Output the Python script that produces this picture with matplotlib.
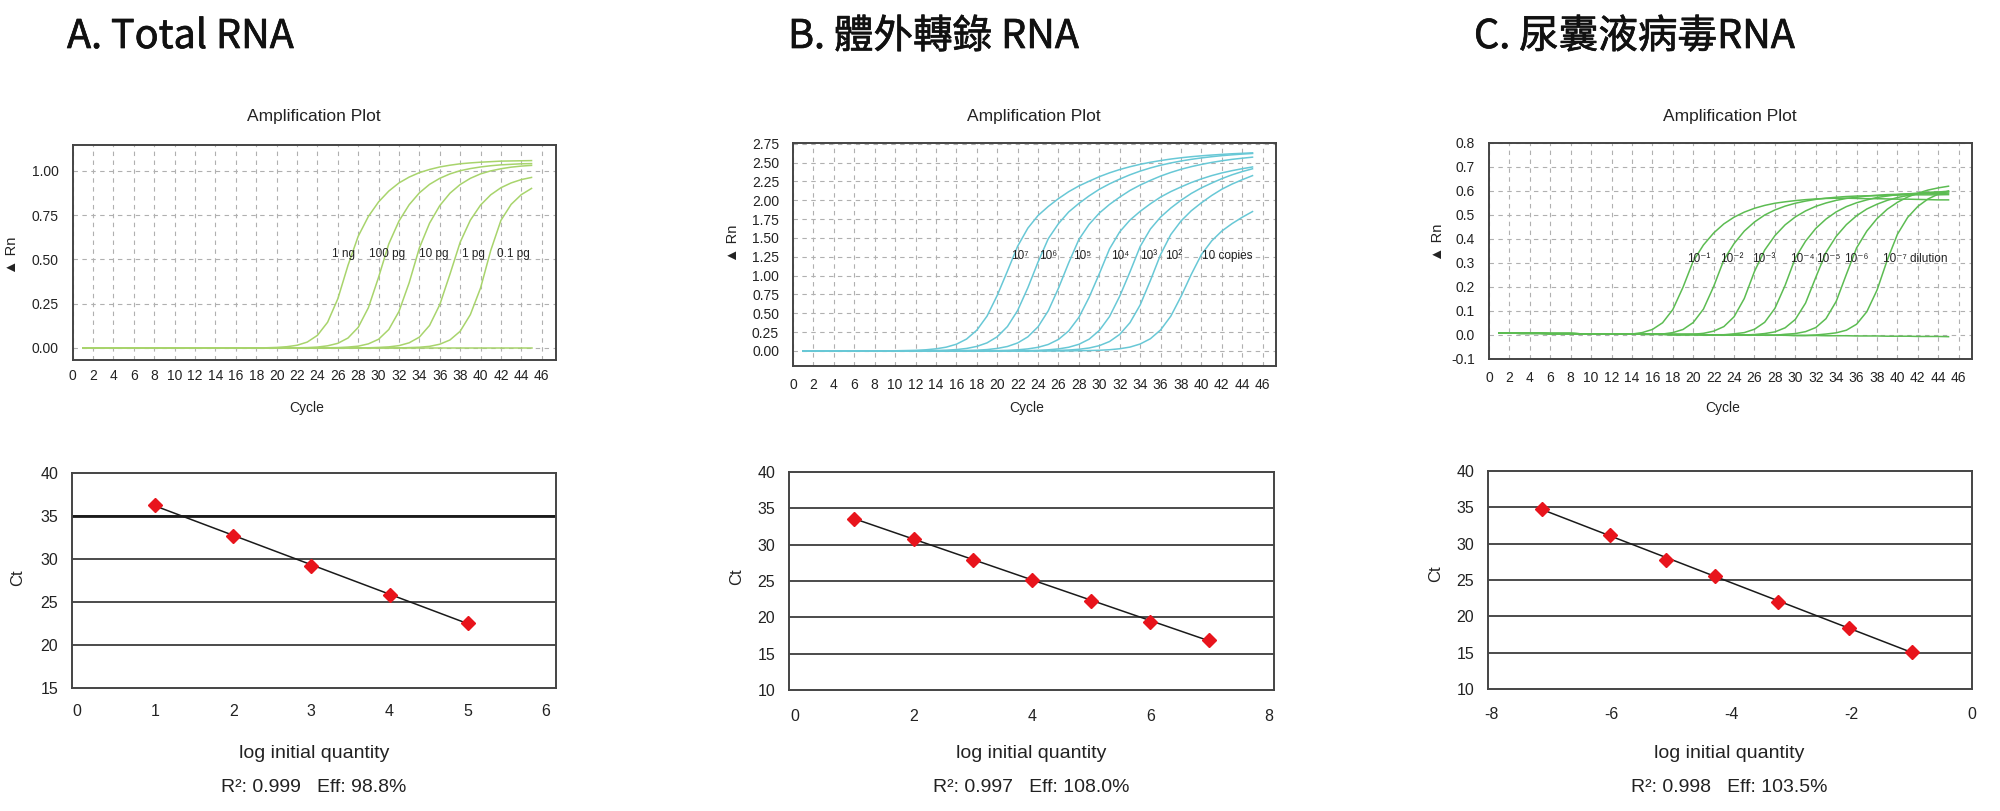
import matplotlib.pyplot as plt
import matplotlib.patheffects as pe
import numpy as np

plt.rcParams['font.family'] = ['Liberation Sans', 'DejaVu Sans']
plt.rcParams['axes.unicode_minus'] = False

W, H = 2000, 811
cycles = list(range(1, 46))

# ---- A. Total RNA : amplification curves (Rn per cycle, from start cycle on) ----
a_labels = ['1 ng', '100 pg', '10 pg', '1 pg', '0.1 pg']
a_label_x = [26.6, 30.8, 35.4, 39.3, 43.2]
a_start = [19, 22, 25, 29, 33]
a_rn = [
    [0.001, 0.003, 0.007, 0.015, 0.033, 0.071, 0.145, 0.277, 0.466, 0.630, 0.742, 0.824, 0.885, 0.931,
     0.964, 0.989, 1.007, 1.021, 1.031, 1.039, 1.044, 1.048, 1.051, 1.054, 1.055, 1.056, 1.057],
    [0.001, 0.002, 0.005, 0.012, 0.026, 0.056, 0.116, 0.227, 0.399, 0.587, 0.716, 0.808, 0.875, 0.923,
     0.957, 0.982, 1.000, 1.012, 1.021, 1.028, 1.033, 1.036, 1.039, 1.040],
    [0.001, 0.002, 0.005, 0.010, 0.023, 0.049, 0.104, 0.206, 0.368, 0.564, 0.704, 0.803, 0.873, 0.922,
     0.957, 0.982, 0.999, 1.011, 1.020, 1.026, 1.030],
    [0.001, 0.003, 0.006, 0.013, 0.029, 0.061, 0.127, 0.244, 0.416, 0.596, 0.721, 0.806, 0.864, 0.904,
     0.931, 0.950, 0.962],
    [0.002, 0.004, 0.009, 0.021, 0.045, 0.094, 0.188, 0.338, 0.550, 0.720, 0.810, 0.865, 0.900],
]
a_ntc = [0.0] * 45

# ---- B. in vitro transcribed RNA ----
b_labels = ['10⁷', '10⁶', '10⁵', '10⁴', '10³', '10²', '10 copies']
b_label_x = [22.2, 25.0, 28.3, 32.0, 34.8, 37.3, 42.5]
b_start = [10, 13, 16, 19, 22, 24, 28]
b_rn = [
    [0.002, 0.005, 0.008, 0.015, 0.028, 0.050, 0.089, 0.158, 0.275, 0.462, 0.737, 1.060, 1.390, 1.630,
     1.798, 1.918, 2.022, 2.114, 2.190, 2.253, 2.313, 2.364, 2.408, 2.445, 2.477, 2.504, 2.527, 2.547,
     2.564, 2.578, 2.590, 2.600, 2.609, 2.617, 2.623, 2.629],
    [0.003, 0.006, 0.010, 0.018, 0.033, 0.060, 0.107, 0.188, 0.324, 0.537, 0.839, 1.180, 1.490, 1.690,
     1.845, 1.958, 2.058, 2.146, 2.218, 2.281, 2.338, 2.387, 2.429, 2.465, 2.495, 2.521, 2.543, 2.562,
     2.578, 2.592, 2.603, 2.613, 2.621],
    [0.003, 0.006, 0.010, 0.018, 0.033, 0.059, 0.106, 0.187, 0.321, 0.533, 0.833, 1.170, 1.480, 1.680,
     1.830, 1.945, 2.042, 2.130, 2.202, 2.264, 2.321, 2.369, 2.411, 2.446, 2.476, 2.502, 2.524, 2.543,
     2.558, 2.572],
    [0.002, 0.004, 0.008, 0.015, 0.027, 0.048, 0.086, 0.153, 0.266, 0.446, 0.712, 1.025, 1.355, 1.582,
     1.737, 1.853, 1.953, 2.043, 2.115, 2.177, 2.235, 2.284, 2.327, 2.363, 2.393, 2.419, 2.442],
    [0.002, 0.004, 0.008, 0.015, 0.027, 0.049, 0.088, 0.156, 0.272, 0.457, 0.728, 1.049, 1.387, 1.618,
     1.777, 1.897, 2.000, 2.090, 2.165, 2.228, 2.287, 2.338, 2.381, 2.418],
    [0.002, 0.004, 0.007, 0.012, 0.022, 0.039, 0.070, 0.125, 0.220, 0.375, 0.611, 0.935, 1.280, 1.545,
     1.725, 1.860, 1.967, 2.063, 2.147, 2.215, 2.273, 2.327],
    [0.003, 0.005, 0.009, 0.016, 0.029, 0.051, 0.092, 0.162, 0.279, 0.462, 0.723, 1.015, 1.280, 1.460,
     1.592, 1.690, 1.775, 1.850],
]
b_base = [0.0] * 45

# ---- C. allantoic fluid virus RNA ----
c_labels = ['10⁻¹', '10⁻²', '10⁻³', '10⁻⁴', '10⁻⁵', '10⁻⁶', '10⁻⁷ dilution']
c_label_x = [20.5, 23.8, 26.9, 30.7, 33.2, 36.0, 41.7]
c_start = [14, 17, 20, 23, 26, 29, 32]
c_rn = [
    [0.004, 0.010, 0.023, 0.051, 0.106, 0.199, 0.308, 0.375, 0.425, 0.463, 0.491, 0.512, 0.528, 0.540,
     0.549, 0.555, 0.560, 0.564, 0.567, 0.569, 0.570, 0.570, 0.569, 0.568, 0.568, 0.567, 0.566, 0.566,
     0.565, 0.564, 0.563, 0.563],
    [0.004, 0.010, 0.023, 0.052, 0.108, 0.202, 0.313, 0.381, 0.433, 0.471, 0.500, 0.521, 0.537, 0.549,
     0.558, 0.565, 0.570, 0.574, 0.577, 0.579, 0.580, 0.581, 0.582, 0.583, 0.584, 0.584, 0.584, 0.584,
     0.585],
    [0.003, 0.007, 0.016, 0.035, 0.076, 0.152, 0.265, 0.354, 0.414, 0.459, 0.492, 0.517, 0.536, 0.550,
     0.561, 0.569, 0.574, 0.579, 0.582, 0.585, 0.586, 0.588, 0.589, 0.590, 0.590, 0.591],
    [0.001, 0.005, 0.010, 0.024, 0.053, 0.111, 0.207, 0.321, 0.391, 0.444, 0.483, 0.513, 0.535, 0.551,
     0.563, 0.573, 0.579, 0.585, 0.588, 0.591, 0.594, 0.595, 0.596],
    [0.002, 0.006, 0.013, 0.030, 0.065, 0.133, 0.240, 0.344, 0.411, 0.460, 0.497, 0.525, 0.545, 0.561,
     0.573, 0.581, 0.588, 0.593, 0.596, 0.599],
    [0.003, 0.006, 0.014, 0.031, 0.068, 0.140, 0.253, 0.363, 0.433, 0.485, 0.524, 0.553, 0.575, 0.591,
     0.604, 0.613, 0.620],
    [0.000, 0.004, 0.009, 0.020, 0.045, 0.097, 0.187, 0.312, 0.420, 0.490, 0.536, 0.567, 0.587, 0.600],
]
c_ntc = [0.008, 0.008, 0.007, 0.007, 0.007, 0.006, 0.006, 0.006, 0.005, 0.005, 0.005, 0.004, 0.004,
         0.004, 0.003, 0.003, 0.003, 0.002, 0.002, 0.002, 0.001, 0.001, 0.001, 0.000, 0.000, 0.000,
         -0.001, -0.001, -0.001, -0.002, -0.002, -0.002, -0.003, -0.003, -0.003, -0.004, -0.004,
         -0.004, -0.005, -0.005, -0.005, -0.006, -0.006, -0.006, -0.007]

# ---- standard curves ----
a_logq = [1, 2, 3, 4, 5]
a_ct = [36.3, 32.7, 29.2, 25.85, 22.6]
b_logq = [1, 2, 3, 4, 5, 6, 7]
b_ct = [33.6, 30.8, 27.9, 25.2, 22.3, 19.4, 16.9]
c_logq = [-7.16, -6.03, -5.09, -4.28, -3.22, -2.04, -0.99]
c_ct = [34.8, 31.2, 27.8, 25.6, 22.0, 18.4, 15.1]
stats = ['R²: 0.999   Eff: 98.8%', 'R²: 0.997   Eff: 108.0%', 'R²: 0.998   Eff: 103.5%']
titles = ['A. Total RNA', 'B. 體外轉錄 RNA', 'C. 尿囊液病毒RNA']

fig = plt.figure(figsize=(20, 8.11), dpi=100)


def px_axes(l, t, r, b):
    return fig.add_axes([l / W, 1 - b / H, (r - l) / W, (b - t) / H])


def ftext(x, y, s, **kw):
    return fig.text(x / W, 1 - y / H, s, **kw)


def amp_plot(box, starts, curves, base, draw_base, color, xmax, ylim, yticks, fmt,
             labels, label_x, label_y, xpad, center_x, rn_xy):
    ax = px_axes(*box)
    if draw_base:
        ax.plot(cycles, base, color=color, lw=1.1)
    for s, vals in zip(starts, curves):
        ax.plot(cycles, base[:s - 1] + vals, color=color, lw=1.1)
    for lab, lx in zip(labels, label_x):
        ax.text(lx, label_y, lab, ha='center', va='center', fontsize=8.5, color='#222222')
    ax.set_xlim(0, xmax)
    ax.set_ylim(*ylim)
    ax.set_xticks(range(0, 47, 2))
    ax.set_yticks(yticks)
    ax.set_yticklabels([fmt % v for v in yticks])
    ax.grid(True, color='#b0b0b0', lw=0.8, ls=(0, (4, 4)))
    ax.set_axisbelow(True)
    ax.tick_params(axis='both', length=0, labelsize=10, colors='#222222')
    ax.tick_params(axis='y', pad=10)
    ax.tick_params(axis='x', pad=xpad)
    for sp in ax.spines.values():
        sp.set_color('#444444')
        sp.set_linewidth(1.4)
    ftext(center_x, 117, 'Amplification Plot', ha='center', va='center', fontsize=12.5, color='#222222')
    ftext(center_x - 7, 408, 'Cycle', ha='center', va='center', fontsize=10, color='#222222')
    ftext(rn_xy[0], rn_xy[1], '▲ Rn', ha='center', va='center', rotation=90, fontsize=10.5,
          color='#222222')
    return ax


def std_plot(box, logq, ct, xlim, xticks, ylim, yticks, xpad, center_x, ct_xy, stat, bold35=False):
    ax = px_axes(*box)
    for v in yticks[1:-1]:
        ax.axhline(v, color='#1a1a1a', lw=1.1, zorder=1)
    if bold35:
        ax.axhline(35, color='#1a1a1a', lw=2.0, zorder=1)
    k, c0 = np.polyfit(logq, ct, 1)
    xs = np.array([min(logq), max(logq)])
    ax.plot(xs, k * xs + c0, color='#1a1a1a', lw=1.1, zorder=2)
    ax.plot(logq, ct, ls='none', marker='D', ms=7.5, color='#e8141c', zorder=3)
    ax.set_xlim(*xlim)
    ax.set_ylim(*ylim)
    ax.set_xticks(xticks)
    ax.set_yticks(yticks)
    ax.tick_params(axis='both', length=0, labelsize=11.5, colors='#222222')
    ax.tick_params(axis='y', pad=10)
    ax.tick_params(axis='x', pad=xpad)
    for sp in ax.spines.values():
        sp.set_color('#444444')
        sp.set_linewidth(1.4)
    ftext(center_x, 753, 'log initial quantity', ha='center', va='center', fontsize=14, color='#222222')
    ftext(center_x, 787, stat, ha='center', va='center', fontsize=14, color='#222222')
    ftext(ct_xy[0], ct_xy[1], 'Ct', ha='center', va='center', rotation=90, fontsize=12,
          color='#222222')
    return ax


# top row
amp_plot((72.7, 145, 556, 360), a_start, a_rn, a_ntc, True, '#a8d46c', 47.4, (-0.068, 1.145),
         [0.0, 0.25, 0.5, 0.75, 1.0], '%.2f', a_labels, a_label_x, 0.53, 6.5, 314, (12, 255))
amp_plot((793, 143, 1276, 366), b_start, b_rn, b_base, False, '#68c8d6', 47.3, (-0.2, 2.76),
         [0.25 * i for i in range(12)], '%.2f', b_labels, b_label_x, 1.266, 9, 1034, (733, 243))
amp_plot((1489, 143, 1972, 359), c_start, c_rn, c_ntc, True, '#5cbc52', 47.3, (-0.1, 0.8),
         [-0.1, 0.0, 0.1, 0.2, 0.3, 0.4, 0.5, 0.6, 0.7, 0.8], '%.1f', c_labels, c_label_x, 0.317,
         9, 1730, (1438, 242))

# bottom row
std_plot((72.2, 473, 556, 688), a_logq, a_ct, (-0.058, 6.128), range(0, 7), (15, 40),
         [15, 20, 25, 30, 35, 40], 11.5, 314, (18, 578), stats[0], bold35=True)
std_plot((789, 472, 1274, 690), b_logq, b_ct, (-0.105, 8.09), [0, 2, 4, 6, 8], (10, 40),
         [10, 15, 20, 25, 30, 35, 40], 13.5, 1031, (737, 577), stats[1])
std_plot((1488, 471, 1972, 689), c_logq, c_ct, (-8.06, 0.01), [-8, -6, -4, -2, 0], (10, 40),
         [10, 15, 20, 25, 30, 35, 40], 13, 1729, (1436, 574), stats[2])

# panel headings (regular weight thickened slightly to a medium look)
for x, t in zip([67, 788, 1474], titles):
    ftext(x, 48, t, ha='left', va='baseline', fontsize=28.5,
          family=['Noto Sans CJK TC', 'DejaVu Sans'], color='#111111',
          path_effects=[pe.withStroke(linewidth=0.5, foreground='#111111')])

fig.savefig('out.png', dpi=100)
